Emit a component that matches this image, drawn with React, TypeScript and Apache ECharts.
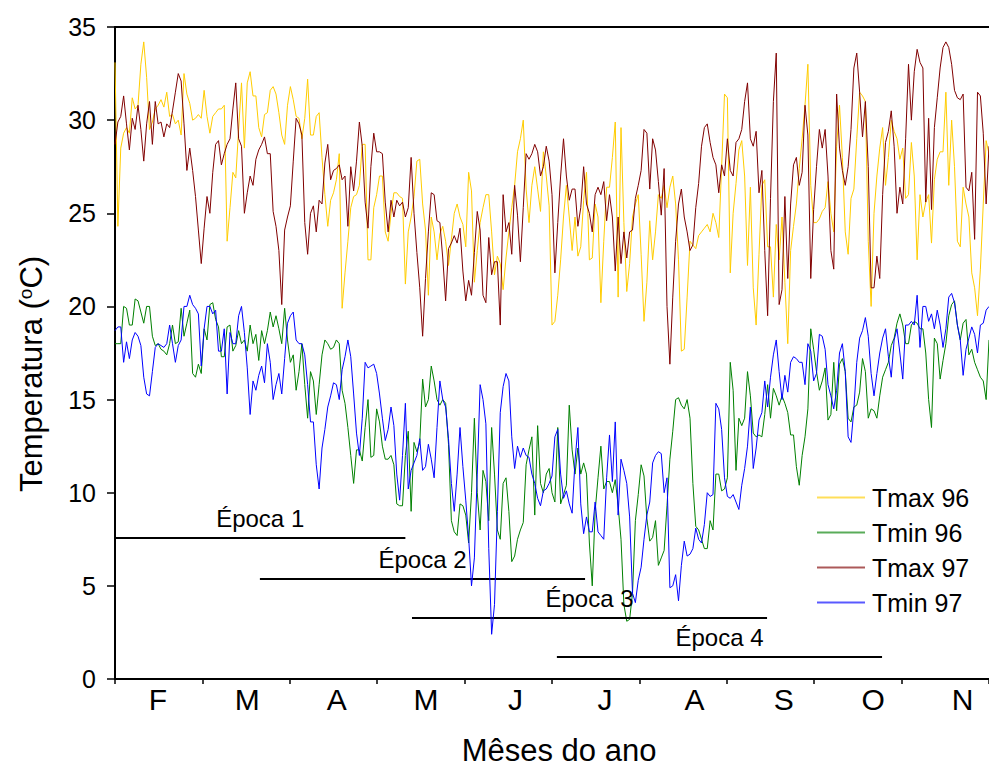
import React, { useEffect, useRef } from "react";
import * as echarts from "echarts";

// Month labels (Feb .. Nov), drawn at positions 0..9 of the label axis
const months = ["F", "M", "A", "M", "J", "J", "A", "S", "O", "N"];

// Daily temperatures (°C), one value per day starting on 1 February
const tmax96 = [
  33.1, 24.3, 28.5, 29.3, 29.6, 29.3, 31.2, 30.6, 30.8, 33.0,
  34.2, 32.3, 29.5, 29.9, 30.6, 30.8, 31.1, 30.7, 31.5, 30.2,
  30.3, 29.8, 30.0, 29.2, 32.5, 31.4, 30.9, 30.0, 30.1, 30.3,
  30.1, 31.6, 30.2, 29.3, 30.2, 30.4, 30.6, 30.6, 30.8, 23.5,
  25.3, 27.2, 26.9, 29.5, 32.0, 28.5, 32.0, 32.6, 31.3, 31.3,
  29.6, 29.1, 30.3, 30.4, 31.6, 31.8, 31.4, 30.4, 29.2, 28.7,
  30.8, 31.8, 31.1, 30.2, 30.1, 29.0, 30.1, 32.2, 29.2, 29.2,
  30.2, 30.4, 28.0, 26.0, 24.3, 25.7, 26.1, 26.8, 28.2,
  19.9, 21.8, 23.5, 25.3, 25.9, 26.0, 26.5, 28.7, 28.7, 22.5,
  22.5, 25.3, 26.0, 27.0, 27.0, 24.0, 23.5, 25.0, 26.1, 26.1,
  25.9, 25.8, 21.2, 24.0, 24.8, 25.9, 27.8, 27.9, 25.5, 24.1,
  20.6, 24.8, 24.0, 22.5, 23.9, 24.3, 23.5, 22.2, 23.6, 25.0,
  25.5, 24.8, 24.4, 23.2, 27.2, 26.2, 21.3, 23.0, 24.5, 25.3,
  26.0, 26.0, 24.0, 21.7, 22.7, 22.3, 20.9, 22.6, 24.0, 25.3,
  26.5, 28.3, 29.0, 30.0, 26.3, 24.5, 26.5, 27.5, 26.3, 25.1,
  28.3, 27.0, 25.4, 19.0, 19.2, 20.6,
  22.5, 24.8, 26.5, 24.8, 23.0, 24.8, 22.7, 23.2, 25.7, 27.2,
  22.5, 22.6, 25.5, 24.8, 20.2, 23.5, 26.4, 26.4, 28.0, 29.9,
  20.5, 29.6, 24.5, 20.8, 22.3, 24.8, 25.5, 26.0, 22.8, 19.2,
  21.3, 24.6, 22.5, 24.0, 26.0, 25.8, 26.5, 25.3, 26.4, 27.0,
  25.5, 22.5, 17.6, 17.7, 20.5, 23.5, 23.3, 23.1, 23.8, 24.0,
  24.2, 24.4, 24.0, 25.0, 24.5, 23.7, 27.5, 31.4, 31.2, 21.8,
  25.0, 26.6, 28.4, 28.9, 27.0, 22.2, 26.4, 21.0, 19.0, 22.8,
  26.5, 26.8, 23.2,
  23.2, 20.5, 24.4, 22.5, 24.8, 21.3, 18.0, 23.0, 24.3, 25.5,
  27.4, 29.0, 30.8, 33.0, 26.5, 24.5, 24.5, 24.7, 25.1, 25.3,
  26.7, 25.0, 24.0, 28.6, 30.8, 28.0, 24.0, 22.8, 25.8, 26.3,
  29.0, 31.5, 31.3, 31.0, 23.5, 20.0, 25.0, 27.0, 28.5, 29.6,
  26.5, 28.0, 30.0, 29.4, 29.0, 27.9, 28.5, 25.8, 26.0, 28.8,
  27.0, 22.5, 26.0, 24.8, 25.6, 26.0, 23.4, 26.8, 27.9, 28.3,
  28.3, 31.5, 26.5, 30.0, 27.5, 23.5, 23.2, 26.4, 25.5, 24.8,
  21.8, 21.0, 19.5, 22.0, 25.5, 28.9, 28.2,
];

const tmin96 = [
  18.0, 18.0, 18.0, 20.0, 19.9, 19.0, 19.0, 20.4, 20.3, 19.7,
  19.1, 20.0, 20.0, 18.4, 17.9, 18.0, 17.7, 17.6, 17.4, 18.0,
  19.0, 18.0, 18.1, 19.9, 18.4, 19.1, 19.8, 16.4, 16.2, 16.9,
  16.4, 18.8, 18.2, 20.1, 20.2, 19.3, 18.9, 17.3, 17.3, 18.9,
  19.0, 17.6, 17.9, 18.7, 18.0, 18.2, 17.6, 19.0, 18.0, 18.5,
  17.1, 18.7, 18.0, 18.7, 19.7, 18.9, 19.5, 18.8, 18.0, 19.9,
  18.2, 17.0, 17.4, 15.5, 16.5, 18.0, 15.8, 14.0, 16.5, 16.0,
  14.2, 15.8, 17.4, 18.2, 18.0, 17.7, 17.8, 18.2, 18.0, 15.5,
  14.8, 13.5, 12.0, 10.5, 12.3, 12.3, 11.7, 13.5, 15.0, 11.9,
  12.0, 14.5, 13.8, 12.5, 11.8, 11.8, 12.0, 11.5, 9.4, 9.3,
  9.3, 12.0, 13.3, 9.0, 12.7, 12.2, 12.7, 16.1, 14.6, 15.0,
  16.8, 16.0, 15.0, 14.7, 15.0, 14.8, 12.6, 8.5, 7.9, 7.7,
  9.4, 9.3, 8.8, 7.3, 10.0, 14.0, 10.0, 8.0, 11.2, 10.6,
  8.5, 13.5, 11.0, 8.0, 7.5, 10.5, 10.8, 9.0, 6.3, 6.6,
  7.5, 8.0, 8.4, 11.5, 12.3, 13.0, 8.8, 13.6, 10.5, 10.0,
  11.0, 11.3, 10.0, 9.5, 13.5, 9.4, 9.9, 10.4, 14.7, 12.3,
  11.0, 12.4, 11.0, 11.6, 11.0, 7.3, 5.0, 9.0, 10.8, 12.5,
  10.2, 10.6, 10.6, 10.0, 10.7, 9.3, 7.5, 4.0, 3.1, 3.2,
  4.6, 8.5, 9.9, 11.5, 10.9, 8.6, 7.4, 7.6, 8.5, 6.1,
  6.5, 6.9, 9.3, 11.8, 13.3, 15.0, 15.1, 14.7, 14.5, 15.0,
  14.0, 10.5, 8.2, 8.0, 7.5, 7.0, 7.0, 8.5, 8.0, 11.0,
  11.0, 10.1, 10.2, 10.8, 17.0, 15.5, 11.2, 14.0, 13.6, 14.0,
  16.5, 15.2, 13.2, 13.0, 13.1, 13.0, 14.2, 15.8, 14.0, 15.6,
  15.2, 14.7, 15.2, 14.8, 14.3, 13.1, 13.1, 11.4, 10.4, 12.0,
  13.0, 14.5, 18.8, 17.7, 16.5, 15.5, 16.0, 16.7, 13.9, 14.2,
  17.0, 14.4, 16.9, 17.2, 16.5, 14.0, 13.8, 14.6, 14.7, 15.4,
  17.2, 16.5, 14.0, 14.5, 14.4, 14.0, 15.2, 16.2, 16.6, 17.0,
  17.9, 18.3, 19.1, 19.6, 19.0, 18.0, 18.0, 19.0, 19.2, 19.1,
  18.8, 18.8, 17.5, 15.0, 13.5, 18.3, 18.0, 16.1, 17.1, 18.0,
  19.5, 20.1, 20.3, 19.0, 18.2, 19.1, 19.3, 17.4, 17.7, 17.0,
  16.6, 16.2, 16.0, 15.0, 18.2,
];

const tmax97 = [
  28.7, 29.9, 30.2, 31.3, 29.8, 28.4, 30.1, 29.5, 30.8, 29.5,
  27.8, 29.8, 31.0, 28.7, 31.0, 29.8, 29.9, 29.1, 29.8, 29.6,
  30.5, 31.5, 32.5, 32.1, 29.8, 27.3, 28.5, 27.3, 25.9, 24.1,
  22.3, 24.2, 25.9, 25.0, 27.2, 28.7, 28.9, 27.6, 28.2, 28.7,
  29.0, 30.6, 32.0, 29.0, 28.6, 25.0, 26.1, 27.0, 26.5, 27.9,
  28.4, 28.7, 29.1, 28.2, 28.2, 25.1, 24.3, 23.0, 20.1, 24.1,
  24.8, 25.4, 27.8, 30.1, 29.8, 29.2, 24.5, 22.8, 25.0, 25.4,
  24.0, 25.7, 25.5, 27.7, 28.7, 26.8, 27.3, 27.4, 27.6,
  26.8, 27.0, 24.3, 27.5, 26.2, 27.8, 29.9, 28.6, 25.6, 24.2,
  27.5, 29.3, 28.3, 28.3, 28.2, 25.6, 24.0, 25.7, 24.8, 25.7,
  25.4, 25.6, 24.8, 25.3, 28.0, 25.0, 22.9, 21.0, 18.4, 21.5,
  24.0, 26.1, 26.0, 24.6, 24.5, 22.6, 20.3, 23.1, 23.4, 23.8,
  23.4, 24.2, 21.9, 20.3, 21.4, 20.6, 22.9, 25.1, 24.1, 20.6,
  20.2, 23.7, 21.7, 22.4, 22.4, 19.0, 26.0, 24.0, 24.5, 22.8,
  26.5, 24.9, 22.4, 25.3, 28.2, 27.9, 28.2, 28.7, 28.3, 27.0,
  27.5, 28.6, 27.8, 26.0, 21.8, 24.5,
  27.0, 29.0, 27.0, 25.7, 26.3, 26.3, 24.3, 25.3, 27.5, 25.5,
  25.0, 24.0, 26.0, 26.4, 26.0, 26.7, 24.6, 26.0, 24.8, 21.9,
  24.8, 22.3, 24.0, 22.6, 24.0, 24.1, 25.8, 26.5, 27.3, 29.5,
  29.3, 26.3, 29.0, 28.4, 26.7, 24.9, 27.4, 20.0, 16.9, 20.5,
  23.5, 25.5, 26.3, 24.8, 24.0, 23.0, 23.3, 25.3, 26.6, 28.6,
  29.6, 29.8, 28.8, 28.0, 27.6, 26.1, 27.6, 27.0, 29.0, 27.3,
  27.0, 28.8, 29.0, 29.5, 31.0, 32.0, 29.0, 28.6, 29.4, 26.1,
  27.3, 23.0, 19.5, 25.8, 31.0,
  33.6, 20.1, 20.9, 25.9, 21.5, 25.5, 27.6, 28.0, 26.5, 27.2,
  30.8, 29.2, 21.5, 25.2, 27.5, 29.5, 28.5, 29.5, 27.0, 23.0,
  22.0, 31.4, 28.5, 27.3, 26.5, 27.5, 29.5, 32.8, 33.6, 31.5,
  29.1, 31.0, 27.5, 21.0, 21.0, 22.7, 21.5, 26.0, 28.8, 29.4,
  30.5, 28.6, 25.0, 26.4, 25.5, 29.0, 33.0, 30.0, 32.6, 33.8,
  33.1, 32.8, 25.6, 30.1, 25.2, 29.6, 31.2, 32.8, 33.9, 34.2,
  33.9, 33.0, 31.6, 31.2, 31.1, 31.4, 26.4, 26.2, 27.2, 23.6,
  31.5, 31.3, 29.3, 25.5, 28.6,
];

const tmin97 = [
  18.7, 18.9, 18.9, 17.0, 18.1, 17.2, 18.2, 18.6, 18.4, 17.9,
  16.2, 15.3, 15.2, 16.5, 17.8, 18.0, 17.9, 17.8, 18.0, 19.0,
  18.0, 17.0, 17.9, 18.2, 20.0, 20.0, 20.6, 20.1, 19.9, 19.6,
  16.8, 18.8, 20.0, 20.0, 19.6, 19.8, 17.6, 17.6, 18.8, 15.3,
  18.6, 18.0, 18.0, 19.5, 20.0, 18.6, 16.7, 14.2, 16.0, 15.5,
  16.3, 16.8, 15.9, 18.0, 17.0, 15.0, 15.8, 16.4, 15.3, 17.2,
  19.1, 19.5, 19.7, 18.2, 18.0, 18.0, 17.4, 15.8, 13.8, 13.8,
  11.5, 10.2, 12.4, 13.4, 14.6, 15.2, 15.9, 15.8, 15.0, 16.6,
  17.3, 18.2, 17.3, 15.3, 13.2, 12.0, 14.0, 17.0, 16.7, 16.8,
  16.9, 16.4, 15.3, 14.0, 12.8, 13.4, 14.6, 13.6, 11.0, 9.6,
  12.0, 14.8, 10.2, 11.2, 11.6, 12.0, 12.9, 11.2, 11.4, 12.6,
  11.8, 10.8, 13.5, 16.0, 15.0, 14.6, 12.9, 10.5, 9.0, 11.0,
  13.5, 11.4, 9.6, 7.6, 5.0, 6.5, 11.0, 15.8, 15.0, 13.7,
  7.0, 2.4, 4.0, 9.0, 14.3, 15.7, 16.4, 16.0, 13.0, 11.3,
  12.5, 11.9, 12.4, 12.0, 11.9, 11.0, 10.5, 9.7, 9.3, 10.1,
  10.2, 10.5, 10.9, 13.0, 13.4, 11.0, 9.7, 10.1, 9.4, 8.9,
  11.7, 13.5, 9.4, 7.8, 8.7, 7.9, 7.9, 9.5, 7.9, 7.7,
  7.5, 10.8, 13.1, 10.6, 13.8, 8.8, 11.8, 11.2, 10.5, 8.7,
  4.6, 4.1, 5.3, 6.0, 7.5, 8.8, 9.5, 11.6, 12.0, 12.2,
  12.1, 10.0, 10.8, 4.9, 5.0, 5.6, 4.2, 6.1, 7.4, 6.6,
  6.7, 7.0, 8.1, 7.5, 7.3, 8.3, 10.0, 9.8, 9.9, 14.8,
  14.5, 13.4, 10.8, 9.8, 9.7, 9.9, 9.5, 9.1, 10.4, 11.3,
  12.5, 14.6, 11.3, 12.4, 13.9, 14.3, 16.0, 14.6, 16.2, 17.4,
  18.2, 16.5, 15.0, 16.3, 15.4, 17.0, 17.3, 17.2, 17.0, 17.0,
  15.8, 18.0, 17.6, 16.0, 16.4, 18.5, 18.4, 17.7, 15.8, 15.2,
  14.5, 15.5, 17.5, 18.0, 16.5, 13.0, 12.7, 14.5, 17.0, 18.3,
  18.7, 19.4, 18.4, 16.4, 15.2, 16.4, 17.5, 18.3, 18.8, 17.3,
  16.2, 18.2, 18.8, 17.5, 16.1, 19.0, 19.0, 19.2, 19.0, 20.6,
  17.8, 20.0, 20.0, 19.2, 19.6, 18.8, 19.8, 19.0, 17.8, 18.8,
  20.5, 20.7, 20.2, 19.0, 18.2, 16.3, 17.7, 18.3, 18.9, 18.5,
  17.5, 19.0, 19.1, 19.8, 20.0,
];

const seriesNames = ["Tmax 96", "Tmin 96", "Tmax 97", "Tmin 97"];
const seriesColors = ["#FFCC00", "#008000", "#800000", "#0000FF"];

// Sowing periods: start/end day and the height (°C) of each bar
const epochNames = ["Época 1", "Época 2", "Época 3", "Época 4"];
const epochStart = [0, 50.4, 103.3, 153.7];
const epochEnd = [101, 163.5, 226.8, 266.8];
const epochLevel = [7.6, 5.4, 3.3, 1.2];

const FONT = "'Liberation Sans', Arial, Helvetica, sans-serif";

export default function App() {
  const ref = useRef<HTMLDivElement>(null);

  useEffect(() => {
    document.body.style.margin = "0";
    if (!ref.current) return;
    const chart = echarts.init(ref.current, undefined, { renderer: "svg" });
    const allSeries = [tmax96, tmin96, tmax97, tmin97];
    const lastDay = tmax96.length - 1;
    const monthIdx = months.map((_m, i) => i);

    chart.setOption({
      animation: false,
      backgroundColor: "#fff",
      textStyle: { fontFamily: FONT },
      grid: { left: 115, top: 27, right: 0, bottom: 88, containLabel: false },
      legend: {
        orient: "vertical",
        left: 817,
        top: 485,
        padding: 0,
        itemWidth: 48,
        itemHeight: 2,
        itemGap: 10,
        icon: "rect",
        data: seriesNames,
        selectedMode: false,
        itemStyle: { opacity: 0.65 },
        textStyle: { fontSize: 25, color: "#000", fontFamily: FONT, padding: [0, 0, 0, 2] },
      },
      xAxis: [
        {
          // day axis carrying the data, drawn as the top frame line
          type: "value",
          min: 0,
          max: lastDay,
          position: "top",
          axisLine: { show: true, onZero: false, lineStyle: { color: "#000", width: 2 } },
          axisTick: { show: false },
          axisLabel: { show: false },
          splitLine: { show: false },
        },
        {
          // month boundaries: bottom axis line and ticks
          type: "category",
          data: months,
          position: "bottom",
          boundaryGap: true,
          axisLine: { show: true, onZero: false, lineStyle: { color: "#000", width: 2 } },
          axisTick: { show: true, interval: 0, length: 5, lineStyle: { color: "#000", width: 1.5 } },
          axisLabel: { show: false },
          splitLine: { show: false },
        },
        {
          // month letters
          type: "value",
          min: -0.4786,
          max: 9.2944,
          position: "bottom",
          axisLine: { show: false },
          axisTick: { show: false },
          splitLine: { show: false },
          axisLabel: {
            customValues: monthIdx,
            fontSize: 30,
            color: "#000",
            fontFamily: FONT,
            margin: 5,
            formatter: (v: number) => months[Math.round(v)] ?? "",
          },
        },
      ],
      yAxis: {
        type: "value",
        min: 0,
        max: 35,
        interval: 5,
        axisLine: { show: true, onZero: false, lineStyle: { color: "#000", width: 2 } },
        axisTick: { show: true, length: 8, lineStyle: { color: "#000", width: 1.5 } },
        axisLabel: { fontSize: 25, color: "#000", fontFamily: FONT, margin: 19 },
        splitLine: { show: false },
      },
      graphic: [
        {
          type: "text",
          x: 559,
          y: 750,
          style: {
            text: "Mêses do ano",
            fontSize: 31,
            fontFamily: FONT,
            fill: "#000",
            align: "center",
            verticalAlign: "middle",
          },
        },
        {
          type: "text",
          x: 31,
          y: 374,
          rotation: Math.PI / 2,
          style: {
            text: "Temperatura ({sup|o}C)",
            fontSize: 31,
            fontFamily: FONT,
            fill: "#000",
            align: "center",
            verticalAlign: "middle",
            rich: {
              sup: { fontSize: 19, fontFamily: FONT, fill: "#000", verticalAlign: "top" },
            },
          },
        },
      ],
      series: [
        ...allSeries.map((vals, k) => ({
          name: seriesNames[k],
          type: "line",
          xAxisIndex: 0,
          yAxisIndex: 0,
          data: vals.map((v, i) => [i, v]),
          showSymbol: false,
          symbol: "none",
          silent: true,
          z: 2 + k,
          lineStyle: { width: 1, color: seriesColors[k] },
          itemStyle: { color: seriesColors[k] },
          emphasis: { disabled: true },
        })),
        {
          name: "Épocas",
          type: "line",
          xAxisIndex: 0,
          yAxisIndex: 0,
          data: [],
          silent: true,
          z: 10,
          markLine: {
            silent: true,
            animation: false,
            symbol: ["none", "none"],
            lineStyle: { color: "#000", width: 2, type: "solid" },
            emphasis: { disabled: true },
            label: {
              show: true,
              position: "insideMiddleTop",
              distance: 7,
              formatter: "{b}",
              fontSize: 24,
              color: "#000",
              fontFamily: FONT,
            },
            data: epochNames.map((n, i) => [
              { name: n, coord: [epochStart[i], epochLevel[i]] },
              { coord: [epochEnd[i], epochLevel[i]] },
            ]),
          },
        },
      ],
    });

    return () => chart.dispose();
  }, []);

  return <div ref={ref} style={{ width: 989, height: 767 }} />;
}
